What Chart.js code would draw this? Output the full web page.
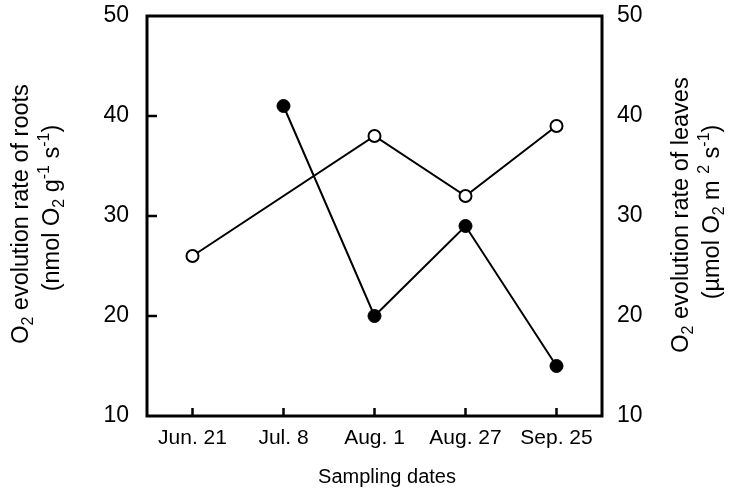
<!DOCTYPE html>
<html>
<head>
<meta charset="utf-8">
<script src="https://cdn.jsdelivr.net/npm/chart.js@4"></script>
<style>
  html, body { margin: 0; background: #fff; }
  #wrap { width: 733px; height: 498px; }
</style>
</head>
<body>
<div id="wrap"><canvas id="c"></canvas></div>
<script>
// data
const dates = ["Jun. 21", "Jul. 8", "Aug. 1", "Aug. 27", "Sep. 25"];
const rootRate = [26, null, 38, 32, 39];   // open circles, left axis
const leafRate = [null, 41, 20, 29, 15];   // filled circles, right axis
const innerTicks = [20, 30, 40];

const FONT = "'Liberation Sans', Arial, sans-serif";

// draws text with sub/superscript pieces, centred on (x, y), optionally rotated
function drawRich(ctx, parts, x, y, size, rot) {
  ctx.save();
  ctx.translate(x, y);
  ctx.rotate(rot || 0);
  ctx.textBaseline = "middle";
  ctx.textAlign = "left";
  let total = 0;
  parts.forEach(p => {
    ctx.font = (p.s ? size * 0.68 : size) + "px " + FONT;
    total += ctx.measureText(p.t).width;
  });
  let cx = -total / 2;
  parts.forEach(p => {
    ctx.font = (p.s ? size * 0.68 : size) + "px " + FONT;
    let dy = p.s === "sub" ? size * 0.3 : p.s === "sup" ? -size * 0.35 : 0;
    ctx.fillText(p.t, cx, dy);
    cx += ctx.measureText(p.t).width;
  });
  ctx.restore();
}

const frame = {
  id: "frame",
  afterDraw(chart) {
    const { ctx, chartArea: a, scales } = chart;
    ctx.save();
    ctx.strokeStyle = "#000";
    ctx.fillStyle = "#000";
    ctx.lineWidth = 3;
    ctx.strokeRect(a.left, a.top, a.right - a.left, a.bottom - a.top);
    ctx.lineWidth = 2.5;
    ctx.beginPath();
    innerTicks.forEach(v => {
      const py = scales.y.getPixelForValue(v);
      ctx.moveTo(a.left, py);
      ctx.lineTo(a.left + 10, py);
    });
    dates.forEach((d, i) => {
      const px = scales.x.getPixelForValue(i);
      ctx.moveTo(px, a.bottom);
      ctx.lineTo(px, a.bottom - 8);
    });
    ctx.stroke();

    const sz = 23.5;
    drawRich(ctx, [{t: "O"}, {t: "2", s: "sub"}, {t: " evolution rate of roots"}], 22, 214, sz, -Math.PI / 2);
    drawRich(ctx, [{t: "(nmol O"}, {t: "2", s: "sub"}, {t: " g"}, {t: "-1", s: "sup"}, {t: " s"}, {t: "-1", s: "sup"}, {t: ")"}], 53, 208, sz, -Math.PI / 2);
    drawRich(ctx, [{t: "O"}, {t: "2", s: "sub"}, {t: " evolution rate of leaves"}], 682, 215, sz, -Math.PI / 2);
    drawRich(ctx, [{t: "(\u00b5mol O"}, {t: "2", s: "sub"}, {t: " m "}, {t: "2", s: "sup"}, {t: " s"}, {t: "-1", s: "sup"}, {t: ")"}], 713, 212, sz, -Math.PI / 2);

    ctx.font = "20px " + FONT;
    ctx.textAlign = "center";
    ctx.textBaseline = "middle";
    ctx.fillText("Sampling dates", 387, 477);
    ctx.restore();
  }
};

function fixY(width) {
  return function (s) {
    s.width = width;
    s.paddingTop = 0;
    s.paddingBottom = 0;
  };
}

const yCommon = {
  min: 10,
  max: 50,
  grid: { display: false, drawTicks: false },
  border: { display: false }
};

new Chart(document.getElementById("c"), {
  type: "line",
  data: {
    labels: dates,
    datasets: [
      {
        label: "roots",
        data: rootRate,
        yAxisID: "y",
        spanGaps: true,
        borderColor: "#000",
        borderWidth: 2,
        pointRadius: 6,
        pointBorderWidth: 2,
        pointBackgroundColor: "#fff",
        pointBorderColor: "#000",
        tension: 0
      },
      {
        label: "leaves",
        data: leafRate,
        yAxisID: "y2",
        borderColor: "#000",
        borderWidth: 2,
        pointRadius: 6.5,
        pointBorderWidth: 1,
        pointBackgroundColor: "#000",
        pointBorderColor: "#000",
        tension: 0
      }
    ]
  },
  options: {
    responsive: true,
    maintainAspectRatio: false,
    animation: false,
    layout: { padding: { top: 16 } },
    plugins: { legend: { display: false }, tooltip: { enabled: false } },
    scales: {
      x: {
        offset: true,
        grid: { display: false, drawTicks: false },
        border: { display: false },
        ticks: { color: "#000", font: { family: FONT, size: 21 }, padding: 10, maxRotation: 0, autoSkip: false },
        afterFit(s) { s.height = 82; s.paddingLeft = 0; s.paddingRight = 0; }
      },
      y: Object.assign({}, yCommon, {
        position: "left",
        ticks: { stepSize: 10, color: "#000", font: { family: FONT, size: 23 }, padding: 18 },
        afterFit: fixY(147)
      }),
      y2: Object.assign({}, yCommon, {
        position: "right",
        ticks: { stepSize: 10, color: "#000", font: { family: FONT, size: 23 }, padding: 15 },
        afterFit: fixY(131)
      })
    }
  },
  plugins: [frame]
});
</script>
</body>
</html>
